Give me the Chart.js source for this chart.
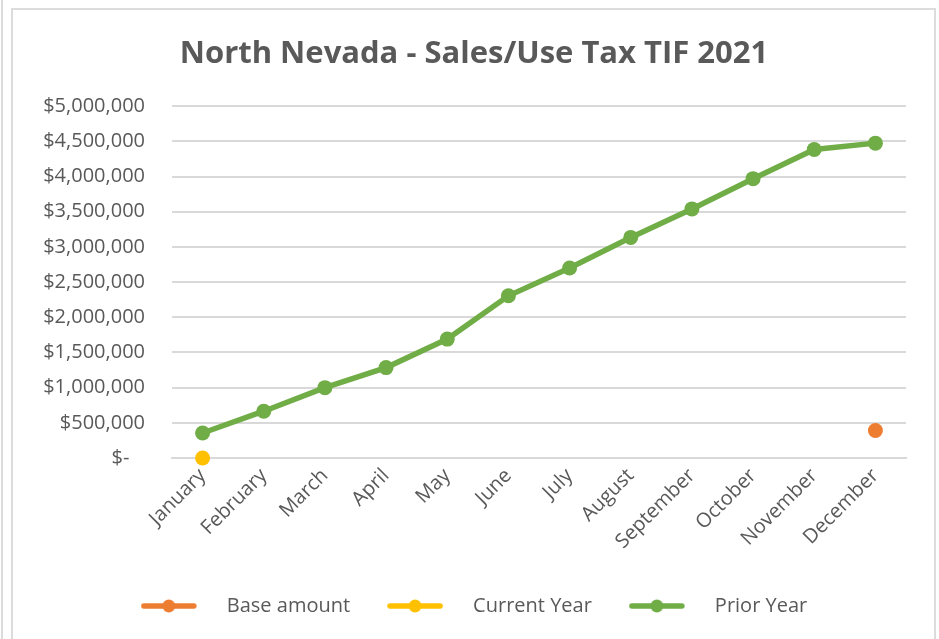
<!DOCTYPE html>
<html>
<head>
<meta charset="utf-8">
<script src="https://cdn.jsdelivr.net/npm/chart.js@4/dist/chart.umd.min.js"></script>
<style>
  html, body { margin: 0; padding: 0; background: #fff; }
  #wrap { position: relative; width: 939px; height: 639px; overflow: hidden; }
  #edge { position: absolute; left: 1px; top: 0; width: 2px; height: 639px; background: #dcdcdc; }
  #frame { position: absolute; left: 11px; top: 8px; width: 921px; height: 700px; border: 2px solid #dcdcdc; }
  #chart { position: absolute; left: 0; top: 0; }
</style>
</head>
<body>
<div id="wrap">
  <div id="edge"></div>
  <div id="frame"></div>
  <canvas id="chart" width="939" height="639"></canvas>
</div>
<script>
// values
const months = ['January', 'February', 'March', 'April', 'May', 'June',
  'July', 'August', 'September', 'October', 'November', 'December'];
const baseAmount = [null, null, null, null, null, null, null, null, null, null, null, 390000];
const currentYear = [0, null, null, null, null, null, null, null, null, null, null, null];
const priorYear = [355000, 665000, 1000000, 1285000, 1690000, 2305000,
  2700000, 3135000, 3540000, 3970000, 4385000, 4475000];
const yMax = 5000000;
const yStep = 500000;

const textColor = '#595959';
const gridColor = '#d9d9d9';
const fontName = "'Open Sans', sans-serif";

// legend marker: short line with a dot in the middle, like Excel
function legendMarker(color) {
  const c = document.createElement('canvas');
  c.width = 76;
  c.height = 16;
  const g = c.getContext('2d');
  g.strokeStyle = color;
  g.lineWidth = 5.5;
  g.lineCap = 'round';
  g.beginPath();
  g.moveTo(3, 8);
  g.lineTo(53, 8);
  g.stroke();
  g.fillStyle = color;
  g.beginPath();
  g.arc(28, 8, 6.5, 0, Math.PI * 2);
  g.fill();
  return c;
}

function series(label, data, color) {
  return {
    label: label,
    data: data,
    borderColor: color,
    backgroundColor: color,
    borderWidth: 5.5,
    pointRadius: 7.5,
    pointHoverRadius: 7.5,
    pointBorderWidth: 0,
    clip: false,
    legendImg: legendMarker(color)
  };
}

const datasets = [
  series('Base amount', baseAmount, '#ED7D31'),
  series('Current Year', currentYear, '#FFC000'),
  series('Prior Year', priorYear, '#70AD47')
];

new Chart(document.getElementById('chart'), {
  type: 'line',
  data: { labels: months, datasets: datasets },
  options: {
    responsive: false,
    animation: false,
    layout: { padding: { left: 42, right: 33, top: 0, bottom: 13 } },
    plugins: {
      title: {
        display: true,
        text: 'North Nevada - Sales/Use Tax TIF 2021',
        color: textColor,
        font: { family: fontName, size: 31, weight: 'bold' },
        padding: { top: 36, bottom: 33 }
      },
      legend: {
        position: 'bottom',
        labels: {
          color: textColor,
          font: { family: fontName, size: 20 },
          usePointStyle: true,
          pointStyleWidth: 76,
          boxHeight: 20,
          padding: 37,
          generateLabels: chart => chart.data.datasets.map((d, i) => ({
            text: d.label,
            fontColor: textColor,
            pointStyle: d.legendImg,
            datasetIndex: i,
            lineWidth: 0,
            hidden: false
          }))
        }
      },
      tooltip: { enabled: false }
    },
    scales: {
      x: {
        offset: true,
        grid: { display: false, drawTicks: false },
        border: { display: true, color: gridColor, width: 2 },
        ticks: {
          color: textColor,
          font: { family: fontName, size: 20 },
          maxRotation: 45,
          minRotation: 45,
          padding: 6,
          autoSkip: false
        },
        afterFit: s => { s.height = 101; }
      },
      y: {
        min: 0,
        max: yMax,
        grid: { color: gridColor, lineWidth: 2, drawTicks: false },
        border: { display: false },
        ticks: {
          stepSize: yStep,
          color: textColor,
          font: { family: fontName, size: 20 },
          padding: 27,
          callback: v => v === 0 ? '$-   ' : '$' + v.toLocaleString('en-US')
        },
        afterFit: s => { s.width = 130; }
      }
    }
  }
});
</script>
</body>
</html>
